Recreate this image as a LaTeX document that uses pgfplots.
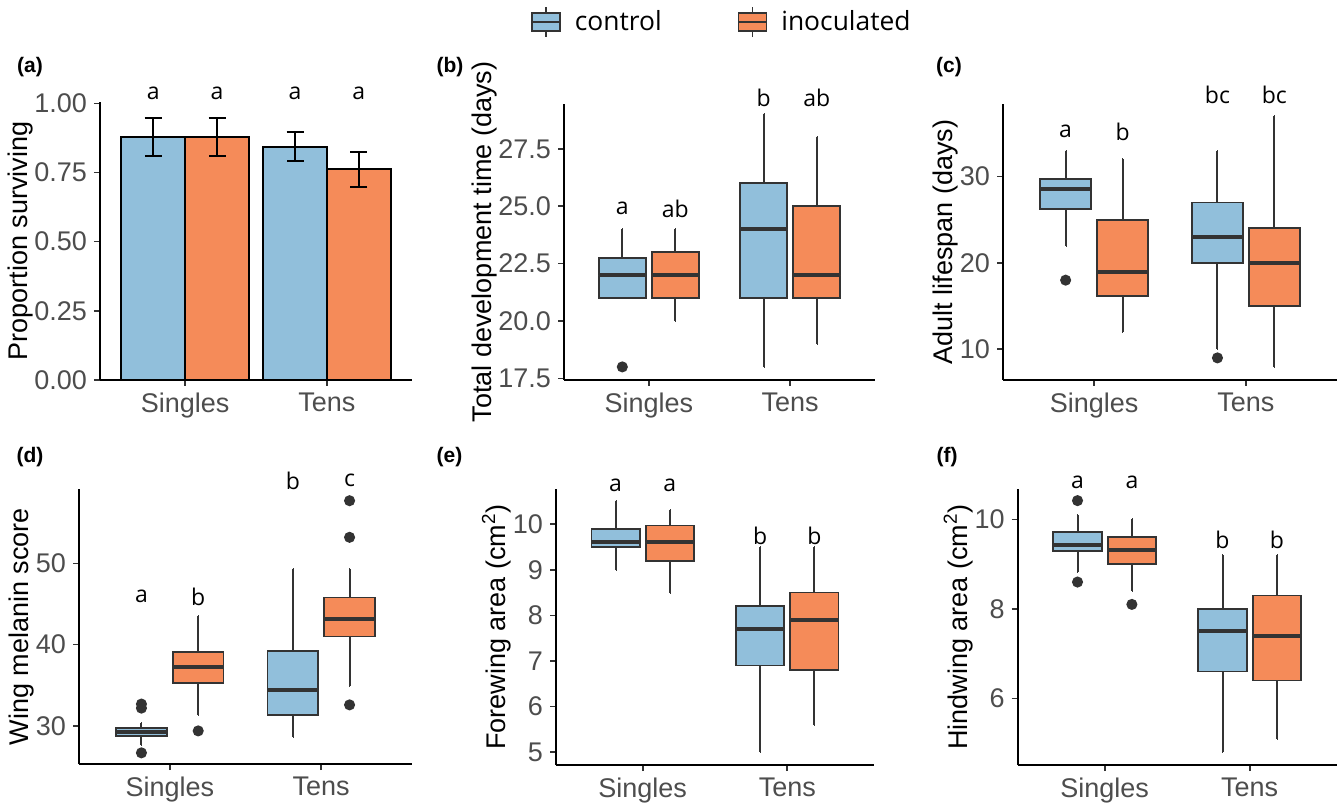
\documentclass[border=0pt]{standalone}
\usepackage{fontspec}
\setmainfont{Liberation Sans}
\newfontfamily\osans{Open Sans}
\usepackage{pgfplots}
\pgfplotsset{compat=1.18}
\usepgfplotslibrary{statistics}

\definecolor{ctrl}{HTML}{91BFDB}
\definecolor{inoc}{HTML}{F58B59}
\definecolor{boxline}{HTML}{333333}
\definecolor{ticktxt}{HTML}{4D4D4D}

\pgfplotsset{
  panel/.style={
    scale only axis, anchor=south west, clip=false,
    axis lines=left, axis line style={-, black, line width=0.9pt},
    tick align=outside, major tick length=3pt,
    tick style={boxline, line width=0.8pt},
    xmin=0.4, xmax=2.6, xtick={1,2}, xticklabels={Singles,Tens},
    tick label style={font=\fontsize{13.5}{16}\selectfont, text=ticktxt},
    label style={font=\fontsize{13.5}{16}\selectfont},
    ylabel shift=-6pt,
    boxplot/draw direction=y,
    boxplot/every median/.style={line width=2pt},
    boxplot/every whisker/.style={line width=1pt},
  },
}
\tikzset{sig/.style={font=\osans\fontsize{11.5}{13}\selectfont}}

% draw position, lower whisker, lower quartile, median, upper quartile, upper whisker, fill, outliers
\newcommand{\drawbox}[8]{%
  \addplot[
    boxplot prepared={draw position=#1, lower whisker=#2, lower quartile=#3,
      median=#4, upper quartile=#5, upper whisker=#6,
      box extend=0.335, whisker extend=0.001},
    draw=boxline, fill=#7, line width=0.9pt,
    mark=*, mark size=2.3pt, mark options={draw=boxline, fill=boxline}]
    coordinates {#8};}

\begin{document}
\begin{tikzpicture}
\useasboundingbox (0,0) rectangle (671.5pt,401.5pt);

% (a) proportion surviving
\begin{axis}[panel, at={(50pt,211.5pt)}, width=156pt, height=139pt,
  ymin=0, ymax=1.005, ytick={0,0.25,0.5,0.75,1},
  yticklabels={0.00,0.25,0.50,0.75,1.00},
  ylabel={Proportion surviving}]
\addplot[ybar, bar width=0.45, bar shift=0pt, fill=ctrl, draw=black, line width=1pt,
  error bars/.cd, y dir=both, y explicit, error mark=|,
  error bar style={line width=1pt, black},
  error mark options={mark size=4.25pt, line width=1pt, black}]
  coordinates {(0.775,0.877) += (0,0.070) -= (0,0.067)
               (1.775,0.843) += (0,0.053) -= (0,0.050)};
\addplot[ybar, bar width=0.45, bar shift=0pt, fill=inoc, draw=black, line width=1pt,
  error bars/.cd, y dir=both, y explicit, error mark=|,
  error bar style={line width=1pt, black},
  error mark options={mark size=4.25pt, line width=1pt, black}]
  coordinates {(1.225,0.877) += (0,0.070) -= (0,0.067)
               (2.225,0.762) += (0,0.063) -= (0,0.063)};
\node[sig] at (axis cs:0.775,1.037) {a};
\node[sig] at (axis cs:1.225,1.037) {a};
\node[sig] at (axis cs:1.775,1.037) {a};
\node[sig] at (axis cs:2.225,1.037) {a};
\end{axis}

% (b) development time
\begin{axis}[panel, at={(282pt,211.5pt)}, width=155.5pt, height=138pt,
  ymin=17.43, ymax=29.45, ytick={17.5,20,22.5,25,27.5},
  yticklabels={17.5,20.0,22.5,25.0,27.5},
  ylabel={Total development time (days)},
  legend image code/.code={
    \draw[#1, draw=boxline, line width=0.8pt] (0pt,-4.5pt) rectangle (14pt,4.5pt);
    \draw[boxline, line width=0.8pt] (0pt,0pt) -- (14pt,0pt)
      (7pt,4.5pt) -- (7pt,7.5pt) (7pt,-4.5pt) -- (7pt,-7.5pt);},
  legend style={at={(0.511,1.297)}, anchor=center, draw=none, fill=none,
    legend columns=2, font=\osans\fontsize{13.2}{15}\selectfont,
    /tikz/every odd column/.append style={column sep=5pt},
    /tikz/every even column/.append style={column sep=36pt}},
  legend cell align=left]
\addlegendimage{fill=ctrl}
\addlegendentry{control}
\addlegendimage{fill=inoc}
\addlegendentry{inoculated}
\drawbox{0.8125}{21}{21}{22}{22.75}{24}{ctrl}{(0,18)}
\drawbox{1.1875}{20}{21}{22}{23}{24}{inoc}{}
\drawbox{1.8125}{18}{21}{24}{26}{29}{ctrl}{}
\drawbox{2.1875}{19}{21}{22}{25}{28}{inoc}{}
\node[sig] at (axis cs:0.8125,24.9) {a};
\node[sig] at (axis cs:1.1875,24.9) {ab};
\node[sig] at (axis cs:1.8125,29.7) {b};
\node[sig] at (axis cs:2.1875,29.7) {ab};
\end{axis}

% (c) adult lifespan
\begin{axis}[panel, at={(501.5pt,211.5pt)}, width=167pt, height=138pt,
  ymin=6.44, ymax=38.4, ytick={10,20,30}, yticklabels={10,20,30},
  ylabel={Adult lifespan (days)}]
\drawbox{0.8125}{22}{26.2}{28.5}{29.75}{33}{ctrl}{(0,18)}
\drawbox{1.1875}{12}{16.2}{19}{25}{32}{inoc}{}
\drawbox{1.8125}{10}{20}{23}{27}{33}{ctrl}{(0,9)}
\drawbox{2.1875}{8}{15}{20}{24}{37}{inoc}{}
\node[sig] at (axis cs:0.8125,35.2) {a};
\node[sig] at (axis cs:1.1875,35.2) {b};
\node[sig] at (axis cs:1.8125,39.5) {bc};
\node[sig] at (axis cs:2.1875,39.5) {bc};
\end{axis}

% (d) wing melanin
\begin{axis}[panel, at={(39.5pt,19.5pt)}, width=166.5pt, height=137.5pt,
  ymin=25.33, ymax=59.14, ytick={30,40,50}, yticklabels={30,40,50},
  ylabel={Wing melanin score}]
\drawbox{0.8125}{27.7}{28.8}{29.3}{29.8}{30.4}{ctrl}{(0,26.7) (0,32.2) (0,32.7)}
\drawbox{1.1875}{31.3}{35.25}{37.3}{39.1}{43.5}{inoc}{(0,29.4)}
\drawbox{1.8125}{28.7}{31.4}{34.4}{39.2}{49.3}{ctrl}{}
\drawbox{2.1875}{34.9}{41.0}{43.2}{45.8}{49.3}{inoc}{(0,32.6) (0,53.2) (0,57.7)}
\node[sig] at (axis cs:0.8125,45.9) {a};
\node[sig] at (axis cs:1.1875,45.9) {b};
\node[sig] at (axis cs:1.8125,60.2) {b};
\node[sig] at (axis cs:2.1875,60.2) {c};
\end{axis}

% (e) forewing area
\begin{axis}[panel, at={(278pt,19pt)}, width=159pt, height=138pt,
  ymin=4.72, ymax=10.77, ytick={5,6,7,8,9,10}, yticklabels={5,6,7,8,9,10},
  ylabel={Forewing area (cm\textsuperscript{2})}]
\drawbox{0.8125}{9.0}{9.5}{9.6}{9.9}{10.5}{ctrl}{}
\drawbox{1.1875}{8.5}{9.2}{9.6}{9.97}{10.3}{inoc}{}
\drawbox{1.8125}{5.0}{6.9}{7.7}{8.2}{9.5}{ctrl}{}
\drawbox{2.1875}{5.6}{6.8}{7.9}{8.5}{9.5}{inoc}{}
\node[sig] at (axis cs:0.8125,10.85) {a};
\node[sig] at (axis cs:1.1875,10.85) {a};
\node[sig] at (axis cs:1.8125,9.74) {b};
\node[sig] at (axis cs:2.1875,9.74) {b};
\end{axis}

% (f) hindwing area
\begin{axis}[panel, at={(508.85pt,19pt)}, width=159.5pt, height=138pt,
  ymin=4.51, ymax=10.68, ytick={6,8,10}, yticklabels={6,8,10},
  ylabel={Hindwing area (cm\textsuperscript{2})}]
\drawbox{0.8125}{8.83}{9.3}{9.43}{9.71}{10.1}{ctrl}{(0,10.42) (0,8.6)}
\drawbox{1.1875}{8.4}{9.0}{9.31}{9.6}{10.0}{inoc}{(0,8.1)}
\drawbox{1.8125}{4.8}{6.6}{7.5}{8.0}{9.2}{ctrl}{}
\drawbox{2.1875}{5.1}{6.4}{7.4}{8.3}{9.2}{inoc}{}
\node[sig] at (axis cs:0.8125,10.82) {a};
\node[sig] at (axis cs:1.1875,10.82) {a};
\node[sig] at (axis cs:1.8125,9.54) {b};
\node[sig] at (axis cs:2.1875,9.54) {b};
\end{axis}

% panel tags
\begin{scope}[every node/.style={font=\bfseries\fontsize{10.5}{12}\selectfont}]
\node at (15pt,368pt) {(a)};
\node at (225pt,368pt) {(b)};
\node at (474.5pt,368pt) {(c)};
\node at (15pt,173pt) {(d)};
\node at (224.75pt,173pt) {(e)};
\node at (473.5pt,173pt) {(f)};
\end{scope}
\end{tikzpicture}
\end{document}
